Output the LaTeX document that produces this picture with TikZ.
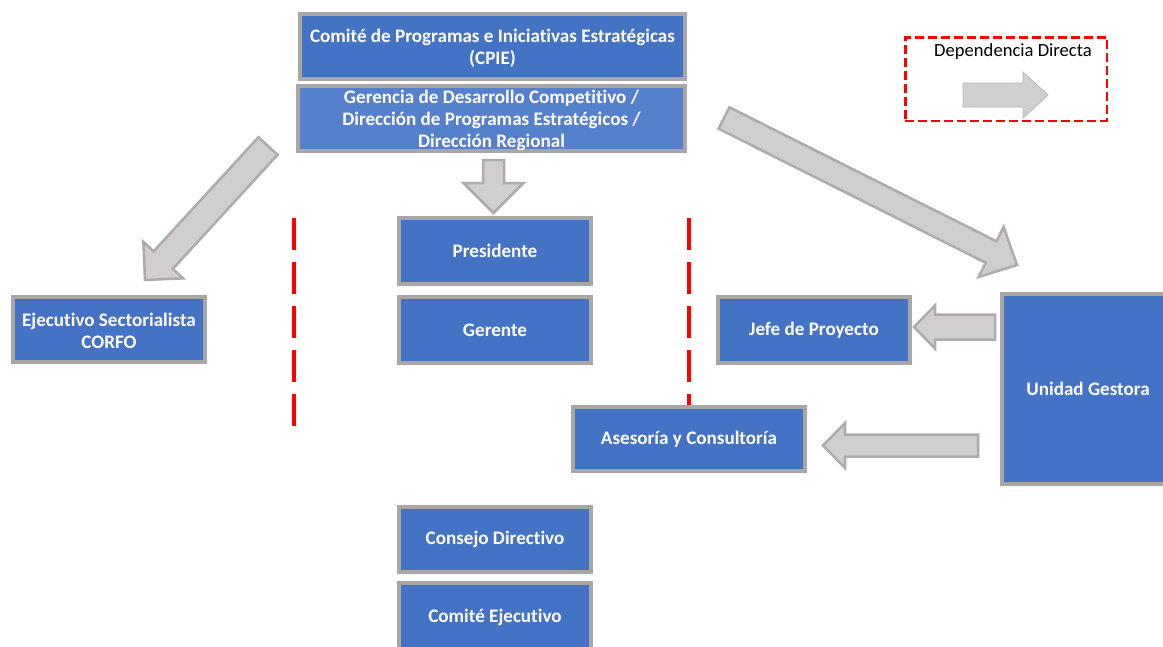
\documentclass[tikz,border=0pt]{standalone}
\usepackage{fontspec}
\setmainfont{Carlito}[Ligatures=NoCommon]
\usetikzlibrary{calc}
\definecolor{boxblue}{HTML}{4472C4}
\definecolor{boxbluelight}{HTML}{5580CC}
\definecolor{boxgray}{HTML}{A9A6A6}
\definecolor{arrfill}{HTML}{D0CECE}
\definecolor{arrline}{HTML}{AFABAB}
\newcommand\blockarrow[6][barrow]{% start, end, shaft half, head half, head length
  \coordinate (ba-n) at ($(#3)!#6!(#2)$);
  \draw[#1] ($(#2)!#4!90:(#3)$) -- ($(ba-n)!#4!90:(#3)$) -- ($(ba-n)!#5!90:(#3)$) -- (#3)
    -- ($(ba-n)!#5!-90:(#3)$) -- ($(ba-n)!#4!-90:(#3)$) -- ($(#2)!#4!-90:(#3)$) -- cycle;}
\begin{document}
\begin{tikzpicture}[x=1pt,y=-1pt,
  boxtext/.style={text=white, font=\bfseries\fontsize{19.1}{22}\selectfont, align=center, inner sep=0pt},
  orgbox/.style={draw=boxgray, line width=4pt, fill=boxblue, boxtext, outer sep=0pt},
  barrow/.style={draw=arrline, fill=arrfill, line width=2.5pt, line join=miter},
  legarrow/.style={draw=arrfill!90!black, fill=arrfill, line width=0.8pt},
  sepline/.style={draw=red, line width=4pt, dash pattern=on 32pt off 12pt}]
\useasboundingbox (0,0) rectangle (1163,646);
\clip (0,0) rectangle (1163,646);

% separators
\coordinate (s1a) at (294,218); \coordinate (s1b) at (294,426);
\coordinate (s2a) at (689,218); \coordinate (s2b) at (689,426);
\draw[sepline] (s1a) -- (s1b);
\draw[sepline] (s2a) -- (s2b);

% boxes
\node[orgbox, minimum width=385pt, minimum height=65pt] (cpie) at (492.5,46.5) {};
\node[boxtext] (cpie-t) at ($(cpie.center)+(0,1.5)$)
  {Comité de Programas e Iniciativas Estratégicas\\(CPIE)};
\node[orgbox, fill=boxbluelight, minimum width=387pt, minimum height=65pt] (ger) at (491.5,118.5) {};
\node[boxtext] (ger-t) at ($(ger.center)+(0,2)$)
  {Gerencia de Desarrollo Competitivo /\\Dirección de Programas Estratégicos /\\Dirección Regional};
\node[orgbox, minimum width=192pt, minimum height=66pt] (pres) at (495,251) {Presidente};
\node[orgbox, minimum width=192pt, minimum height=66pt] (gte) at (495,330) {Gerente};
\node[orgbox, minimum width=192pt, minimum height=65pt] (cons) at (495,539.5) {Consejo Directivo};
\node[orgbox, minimum width=192pt, minimum height=68pt] (ceje) at (495,617) {Comité Ejecutivo};
\node[orgbox, minimum width=192pt, minimum height=65pt] (ejec) at (109,329.5) {};
\node[boxtext] (ejec-t) at ($(ejec.center)+(0,1.5)$) {Ejecutivo Sectorialista\\CORFO};
\node[orgbox, minimum width=192pt, minimum height=66pt] (jefe) at (814,330) {Jefe de Proyecto};
\node[orgbox, minimum width=232pt, minimum height=64pt] (ases) at (689,439) {Asesoría y Consultoría};
\node[orgbox, minimum width=172pt, minimum height=190pt] (ug) at (1088,389) {Unidad Gestora};

% legend
\node[draw=red, line width=2.5pt, dash pattern=on 9pt off 4pt, minimum width=201.5pt,
  minimum height=83.5pt, inner sep=0pt] (leg) at (1006,79) {};
\node[font=\fontsize{18.6}{21}\selectfont, inner sep=0pt] (legtxt) at (1013,52) {Dependencia Directa};
\coordinate (lgA) at (963,95); \coordinate (lgB) at (1048,95);
\blockarrow[legarrow]{lgA}{lgB}{12pt}{23pt}{25pt}

% block arrows
\coordinate (dnA) at (493.5,160); \coordinate (dnB) at (493.5,213);
\blockarrow{dnA}{dnB}{10.5pt}{30pt}{30pt}
\coordinate (lfA) at (268,146); \coordinate (lfB) at (145,280);
\blockarrow{lfA}{lfB}{13pt}{27pt}{27pt}
\coordinate (rtA) at (724,118); \coordinate (rtB) at (1017,265);
\blockarrow{rtA}{rtB}{12pt}{28pt}{29pt}
\coordinate (jA) at (995,327); \coordinate (jB) at (914,327);
\blockarrow{jA}{jB}{12.5pt}{21.5pt}{21pt}
\coordinate (aA) at (978,445.5); \coordinate (aB) at (823,445.5);
\blockarrow{aA}{aB}{11pt}{22.5pt}{22pt}
\end{tikzpicture}
\end{document}
